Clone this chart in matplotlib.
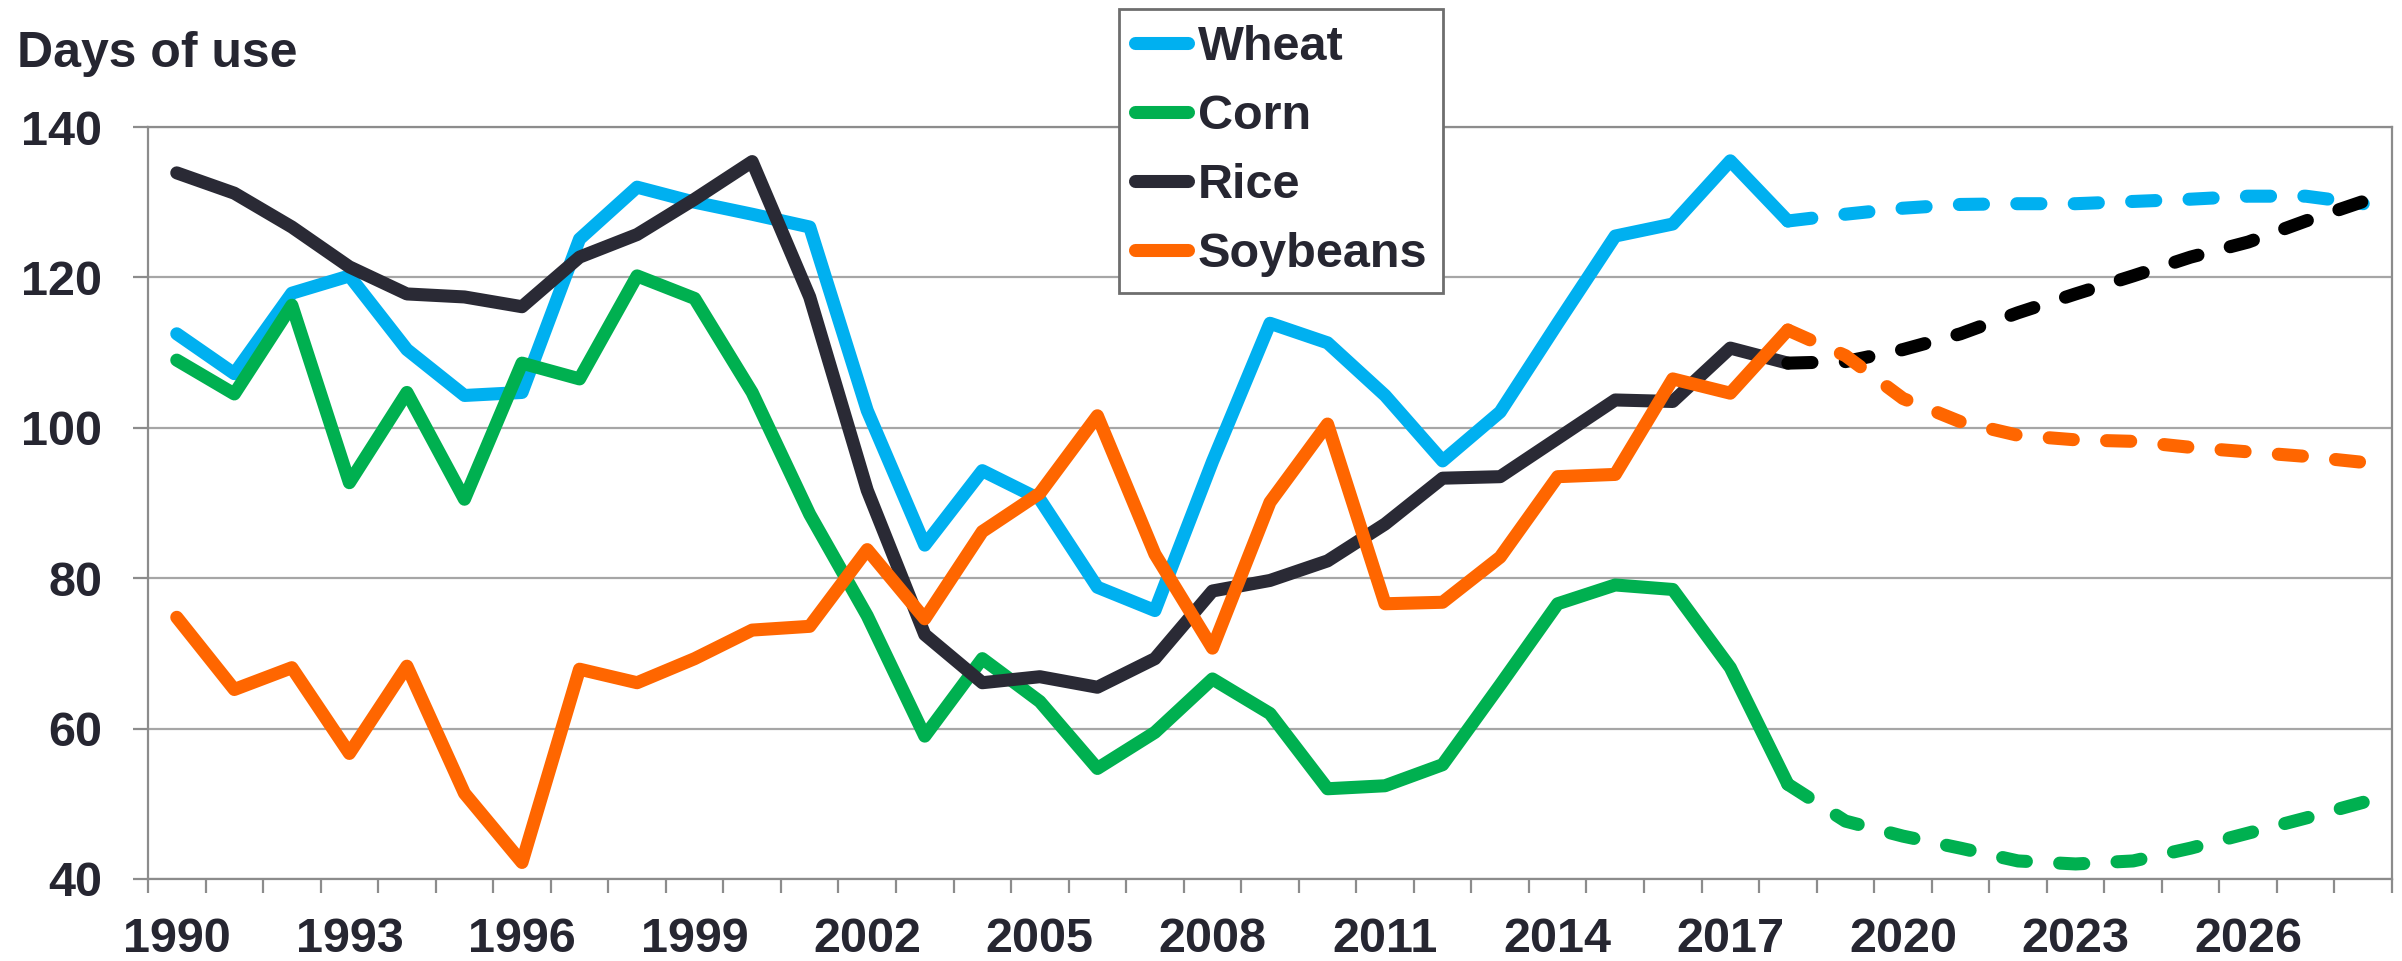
import matplotlib
matplotlib.use("Agg")
import matplotlib.pyplot as plt
from matplotlib.ticker import FixedLocator

plt.rcParams['font.family'] = ['Liberation Sans', 'DejaVu Sans']
plt.rcParams['font.weight'] = 'bold'

# ----------------------------
# Data
# ----------------------------
years = list(range(1990, 2029))
last_actual = 2018   # solid up to here, dashed projection after

wheat = [112.5, 107.2, 117.9, 120.2, 110.4, 104.3, 104.7, 125.1, 132.0, 130.0,
         128.4, 126.7, 102.3, 84.4, 94.3, 90.5, 78.8, 75.7, 95.5, 113.9,
         111.3, 104.3, 95.6, 102.1, 113.9, 125.5, 127.1, 135.5, 127.5, 128.4,
         129.2, 129.7, 129.8, 129.8, 130.1, 130.4, 130.8, 130.8, 129.8]
corn = [109.0, 104.5, 116.3, 92.7, 104.7, 90.5, 108.6, 106.5, 120.2, 117.2,
        104.7, 88.5, 75.0, 59.0, 69.3, 63.6, 54.7, 59.5, 66.6, 62.0,
        52.0, 52.4, 55.2, 65.8, 76.6, 79.1, 78.5, 68.1, 52.6, 47.7,
        45.7, 44.1, 42.4, 42.0, 42.4, 44.1, 46.1, 48.1, 50.2]
rice = [133.9, 131.2, 126.7, 121.4, 117.8, 117.4, 116.1, 122.7, 125.7, 130.4,
        135.4, 117.4, 91.7, 72.5, 66.1, 66.9, 65.5, 69.3, 78.3, 79.7,
        82.3, 87.2, 93.3, 93.5, 98.6, 103.7, 103.5, 110.6, 108.6, 108.8,
        110.4, 112.5, 115.3, 117.8, 120.2, 122.7, 124.7, 127.5, 130.1]
soybeans = [74.8, 65.2, 68.1, 56.7, 68.3, 51.4, 42.2, 67.9, 66.1, 69.3,
            73.1, 73.6, 83.8, 74.6, 86.2, 91.3, 101.6, 83.2, 70.7, 90.1,
            100.5, 76.6, 76.8, 82.8, 93.5, 93.8, 106.5, 104.6, 113.0, 109.6,
            103.9, 100.8, 99.0, 98.4, 98.2, 97.4, 96.8, 96.2, 95.4]

names = ['Wheat', 'Corn', 'Rice', 'Soybeans']
series = [wheat, corn, rice, soybeans]
colors = ['#00B0F0', '#00B050', '#2A2A35', '#FF6600']
dash_colors = ['#00B0F0', '#00B050', '#000000', '#FF6600']

label_years = list(range(1990, 2027, 3))
y_ticks = [40, 60, 80, 100, 120, 140]

text_color = '#262631'
axis_gray = '#8C8C8C'
lw = 9.4

fig = plt.figure(figsize=(24.02, 9.61), dpi=100)
ax = fig.add_axes([148 / 2402, 1 - 879 / 961, (2392 - 148) / 2402, (879 - 127) / 961])

split = years.index(last_actual)
for name, vals, c, dc in zip(names, series, colors, dash_colors):
    ax.plot(years[:split + 1], vals[:split + 1], color=c, lw=lw, label=name,
            solid_capstyle='round', solid_joinstyle='round', zorder=3)
    ax.plot(years[split:], vals[split:], color=dc, lw=lw,
            linestyle=(0, (1.85, 2.55)), dash_capstyle='round',
            dash_joinstyle='round', zorder=3)

ax.set_xlim(years[0] - 0.5, years[-1] + 0.5)
ax.set_ylim(40, 140)

ax.set_yticks(y_ticks)
ax.yaxis.grid(True, color='#A6A6A6', lw=1.6)
ax.set_axisbelow(True)

ax.set_xticks(label_years)
ax.set_xticklabels([str(y) for y in label_years])
ax.xaxis.set_minor_locator(FixedLocator([y - 0.5 for y in years] + [years[-1] + 0.5]))

ax.tick_params(axis='x', which='major', length=0, pad=27, labelsize=35,
               labelcolor=text_color)
ax.tick_params(axis='x', which='minor', length=10, width=1.6, color=axis_gray,
               direction='out')
ax.tick_params(axis='y', which='major', length=11, width=1.6, color=axis_gray,
               direction='out', pad=22, labelsize=35, labelcolor=text_color)

for sp in ax.spines.values():
    sp.set_color(axis_gray)
    sp.set_linewidth(1.6)

fig.text(17 / 2402, 1 - 67 / 961, 'Days of use', fontsize=36, color=text_color,
         fontweight='bold', va='baseline', ha='left')

leg = ax.legend(loc='upper left', bbox_to_anchor=(1119 / 2402, 1 - 9 / 961),
                bbox_transform=fig.transFigure, fontsize=35, frameon=True,
                fancybox=False, edgecolor='#6E6E6E', handlelength=1.1,
                handletextpad=0.2, labelspacing=0.5, borderpad=0.32,
                borderaxespad=0, framealpha=1)
leg.get_frame().set_linewidth(2)
for t in leg.get_texts():
    t.set_color(text_color)

fig.savefig('out.png', dpi=100)
